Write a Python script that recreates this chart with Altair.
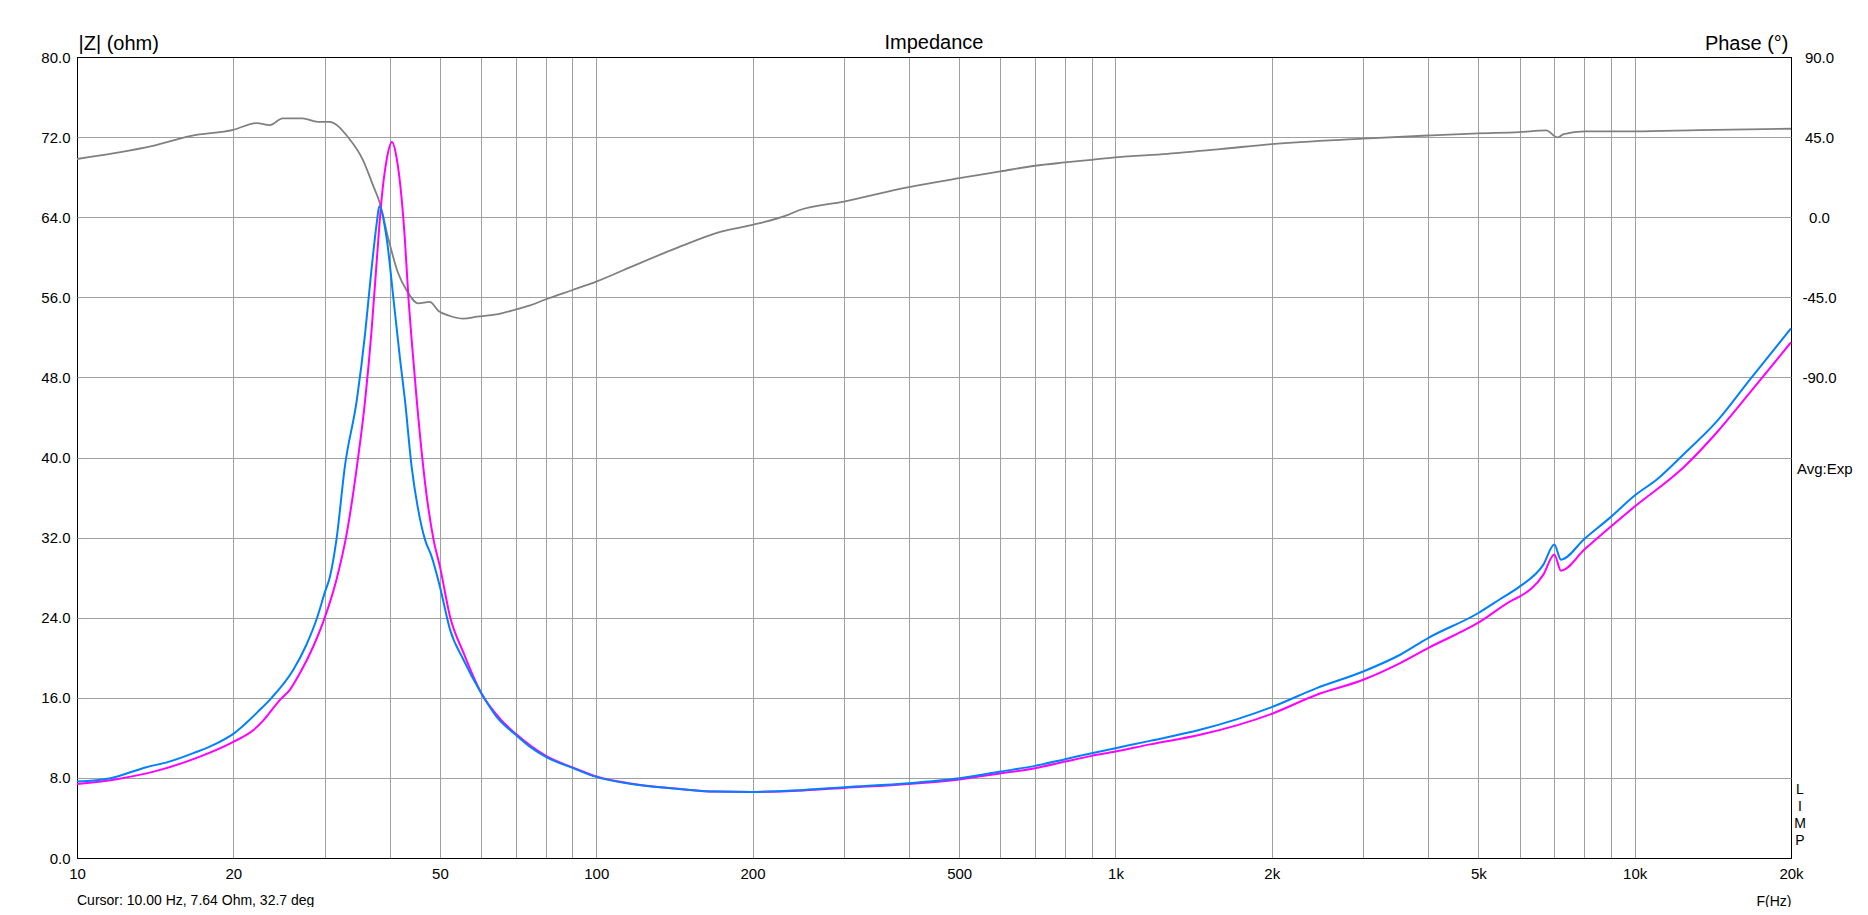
import altair as alt
import pandas as pd

# ---------------- data ----------------
z1_freq = [10, 11.6, 13.6, 15, 16.8, 18.5, 20, 22.5, 23.7, 26.1, 27.6, 29.0, 30, 30.7,
           31.6, 32.8, 34.6, 35.9, 36.7, 37.8, 38.2, 39.5, 40.7, 41.9, 42.8, 44.1, 45.4,
           46.8, 48.2, 50, 52.3, 55.5, 60, 64.3, 70, 74.6, 80, 90, 100, 118, 144, 169,
           200, 251, 300, 400, 500, 600, 700, 800, 900, 1000, 1166, 1455, 2000, 2441,
           3000, 3534, 4000, 5000, 5510, 6000, 6670, 7000, 7210, 8000, 9000, 10000,
           11030, 12410, 14390, 16680, 20000]
z1_ohm = [7.64, 7.97, 9.07, 9.6, 10.5, 11.4, 12.4, 14.8, 16.0, 18.8, 21.2, 24.0, 26.5, 28.1,
          31.8, 39.1, 45.8, 52.5, 57.5, 63.5, 65.1, 61.8, 55.8, 49.8, 45.8, 39.1, 34.8,
          31.8, 30.1, 27.1, 22.8, 19.8, 16.5, 14.1, 12.3, 11.1, 10.1, 9.0, 8.1, 7.37, 6.9, 6.63,
          6.6, 6.8, 7.07, 7.47, 7.97, 8.63, 9.2, 9.87, 10.47, 10.97, 11.7, 12.8, 15.07, 16.97,
          18.63, 20.3, 21.97, 24.47, 25.87, 27.1, 29.3, 31.3, 29.8, 31.87, 34.07, 36.2,
          37.8, 40.3, 43.6, 47.8, 52.9]

z2_freq = [10, 12, 14, 16.8, 20, 21.9, 22.9, 24.6, 25.7, 26.9, 28.5, 30, 31.6, 33.1, 34.6,
           35.9, 36.9, 37.8, 38.6, 39.5, 40.4, 41.3, 42.2, 42.8, 43.5, 44.1, 45.1, 46.8,
           48.6, 50, 52.3, 55.5, 60, 65.3, 70, 80, 90, 100, 118, 144, 169, 200, 251, 300,
           400, 500, 600, 700, 800, 900, 1000, 1166, 1455, 2000, 2441, 3000, 3534, 4000,
           5000, 5840, 6000, 6670, 7000, 7210, 8000, 9000, 10000, 12410, 14390, 16680, 20000]
z2_ohm = [7.4, 7.9, 8.6, 9.9, 11.6, 12.8, 13.8, 15.8, 16.8, 18.5, 21.1, 24.0, 27.8, 32.5, 39.1,
          45.8, 52.5, 59.8, 65.8, 69.8, 71.5, 69.8, 65.8, 61.8, 55.8, 51.8, 45.8, 37.5,
          31.8, 29.1, 24.1, 20.5, 16.5, 13.9, 12.4, 10.2, 9.05, 8.15, 7.4, 6.92, 6.63, 6.6, 6.75, 7.0,
          7.4, 7.85, 8.45, 8.97, 9.63, 10.2, 10.63, 11.35, 12.3, 14.4, 16.3, 17.8, 19.47, 20.97,
          23.5, 25.8, 26.1, 28.3, 30.3, 28.7, 30.8, 33.1, 35.1, 39.0, 42.5, 46.5, 51.5]

ph_freq = [10, 11.8, 14.0, 16.6, 20, 22.2, 23.5, 24.9, 27.2, 29.1, 30.6, 33.3, 35.6, 37.2,
           38.2, 39.8, 41.5, 43.2, 45.4, 47.8, 49.7, 52.3, 55.5, 58.9, 64.3, 71.3, 74.6, 80,
           90, 100, 117, 142.6, 174, 200, 234, 245, 300, 400, 500, 600, 700, 800, 900, 1000,
           1259, 1590, 2000, 3000, 4000, 5000, 6000, 6750, 7100, 7300, 8000, 10000, 13300, 20000]
ph_deg = [32.7, 36.0, 40.1, 45.7, 49.1, 52.9, 51.75, 55.5, 55.5, 53.6, 53.6, 44.8, 31.7, 17.6,
          9.0, -12.4, -31.1, -41.5, -48.4, -47.6, -52.7, -55.5, -57.0, -55.9, -54.6, -51.2, -49.5, -46.1,
          -40.9, -36.2, -27.75, -17.4, -8.1, -4.3, 1.3, 3.75, 8.8, 16.9, 21.9, 25.7, 28.9, 30.75, 32.25, 33.6,
          35.6, 38.25, 41.1, 44.1, 45.9, 47.1, 47.8, 48.75, 44.8, 46.7, 48.2, 48.2, 48.9, 49.7]

x_grid_ticks = [10, 20, 30, 40, 50, 60, 70, 80, 90,
                100, 200, 300, 400, 500, 600, 700, 800, 900,
                1000, 2000, 3000, 4000, 5000, 6000, 7000, 8000, 9000,
                10000, 20000]
x_label_ticks = [10, 20, 50, 100, 200, 500, 1000, 2000, 5000, 10000, 20000]
z_ticks = [0, 8, 16, 24, 32, 40, 48, 56, 64, 72, 80]
phase_ticks = [90, 45, 0, -45, -90]

title_text = ["Impedance"]
cursor_text = ["Cursor: 10.00 Hz, 7.64 Ohm, 32.7 deg"]
avg_text = ["Avg:Exp"]
limp_text = ["L\nI\nM\nP"]

# ---------------- chart ----------------
W, H = 1714, 801
FONT = "Liberation Sans"
GRID = "#a0a0a0"
TITLE_SIZE = 20

df_z1 = pd.DataFrame({"f": z1_freq, "z": z1_ohm})
df_z2 = pd.DataFrame({"f": z2_freq, "z": z2_ohm})
df_ph = pd.DataFrame({"f": ph_freq, "p": ph_deg})

label_expr = (f"indexof({x_label_ticks}, datum.value) >= 0 ? "
              "(datum.value >= 1000 ? (datum.value / 1000) + 'k' : datum.value + '') : ''")

x_enc = alt.X(
    "f:Q",
    scale=alt.Scale(type="log", domain=[10, 20000], nice=False),
    axis=alt.Axis(
        values=x_grid_ticks, labelExpr=label_expr, title="F(Hz)",
        grid=True,
        gridColor=alt.condition("datum.value == 10 || datum.value == 20000",
                                alt.value("black"), alt.value(GRID)),
        ticks=False, domain=False, labelFlush=False, labelOverlap=False,
        labelPadding=8, labelFontSize=15, labelColor="black",
        titleFontSize=14, titleFontWeight="normal", titleColor="black",
        titleAlign="right", titleX=W, titleY=47, titleBaseline="alphabetic",
    ),
)

z_enc = alt.Y(
    "z:Q",
    scale=alt.Scale(domain=[0, 80], nice=False, zero=False),
    axis=alt.Axis(
        orient="left", values=z_ticks, format=".1f", title="|Z| (ohm)",
        grid=True,
        gridColor=alt.condition("datum.value == 0 || datum.value == 80",
                                alt.value("black"), alt.value(GRID)),
        ticks=False, domain=False, labelFlush=False, labelOverlap=False,
        labelPadding=7, labelFontSize=15, labelColor="black",
        titleAngle=0, titleAlign="left", titleX=1, titleY=-8,
        titleBaseline="alphabetic", titleFontSize=TITLE_SIZE, titleFontWeight="normal",
        titleColor="black",
    ),
)

p_enc = alt.Y(
    "p:Q",
    scale=alt.Scale(domain=[-360, 90], nice=False, zero=False),
    axis=alt.Axis(
        orient="right", values=phase_ticks,
        labelExpr="(datum.value < 0 ? '-' : '') + format(abs(datum.value), '.1f')",
        title="Phase (°)", grid=False, ticks=False, domain=False,
        labelFlush=False, labelOverlap=False, labelAlign="center",
        labelPadding=28, labelFontSize=15, labelColor="black",
        titleAngle=0, titleAlign="right", titleX=-3, titleY=-8,
        titleBaseline="alphabetic", titleFontSize=TITLE_SIZE, titleFontWeight="normal",
        titleColor="black",
    ),
)

phase_line = alt.Chart(df_ph).mark_line(
    color="#808080", strokeWidth=1.8, interpolate="monotone"
).encode(x=x_enc, y=p_enc)

z2_line = alt.Chart(df_z2).mark_line(
    color="#ff00ff", strokeWidth=2, interpolate="monotone"
).encode(x=x_enc, y=z_enc)

z1_line = alt.Chart(df_z1).mark_line(
    color="#0080ff", strokeWidth=2, interpolate="monotone"
).encode(x=x_enc, y=z_enc)

title = alt.Chart(pd.DataFrame({"t": title_text})).mark_text(
    align="center", baseline="alphabetic", fontSize=TITLE_SIZE, font=FONT, color="black"
).encode(text="t:N", x=alt.value(W / 2), y=alt.value(-8))

cursor = alt.Chart(pd.DataFrame({"t": cursor_text})).mark_text(
    align="left", baseline="alphabetic", fontSize=14, font=FONT, color="black"
).encode(text="t:N", x=alt.value(0), y=alt.value(H + 47))

avg = alt.Chart(pd.DataFrame({"t": avg_text})).mark_text(
    align="left", baseline="top", fontSize=15, font=FONT, color="black"
).encode(text="t:N", x=alt.value(W + 6), y=alt.value(H / 2 + 4))

limp = alt.Chart(pd.DataFrame({"t": limp_text})).mark_text(
    align="center", baseline="top", fontSize=14, font=FONT, color="black",
    lineBreak="\n", lineHeight=17
).encode(text="t:N", x=alt.value(W + 9), y=alt.value(726))

z_layer = alt.layer(z2_line, z1_line, title, cursor, avg, limp)

chart = alt.layer(phase_line, z_layer).resolve_scale(y="independent").properties(
    width=W, height=H,
    autosize=alt.AutoSizeParams(type="none"),
    padding={"left": 69, "top": 49, "right": 65, "bottom": 49},
).configure(font=FONT).configure_view(stroke="black", strokeWidth=1)

chart.save("out.html", embed_options={"renderer": "svg", "actions": False})
